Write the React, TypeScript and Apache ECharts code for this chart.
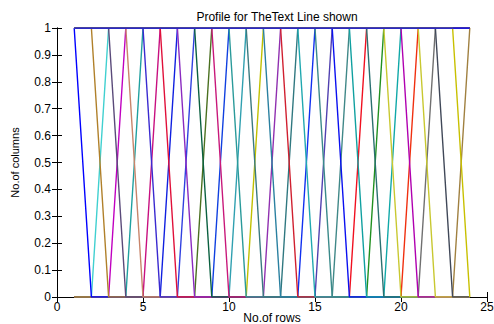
import React, { useEffect, useRef } from "react";
import * as echarts from "echarts";

// Row indices (x axis)
const rows = [1, 2, 3, 4, 5, 6, 7, 8, 9, 10, 11, 12, 13, 14, 15, 16, 17, 18, 19, 20, 21, 22, 23, 24];

// Columns that fall from 1 to 0: last row holding 1
const fallAfterRow = [1, 2, 3, 4, 5, 6, 7, 8, 9, 10, 11, 12, 13, 14, 15, 16, 17, 18, 19, 20, 21, 22, 23];
const fallColors = [
  "#0000FF", "#B0802A", "#5A4A7A", "#C8846A", "#3A2AD0", "#E0103A", "#8A2AC0", "#0A6040",
  "#C8187A", "#2A9A9A", "#3A7A80", "#2A80A0", "#D02030", "#20A8B0", "#3A8A8A", "#0A10F0",
  "#10A0A0", "#2A7070", "#C8C830", "#B000B0", "#C8C830", "#404858", "#C8C000",
];

// Columns that rise from 0 to 1: last row holding 0
const riseAfterRow = [2, 3, 4, 5, 6, 7, 8, 9, 10, 11, 12, 13, 14, 15, 16, 17, 18, 19, 20, 21, 23];
const riseColors = [
  "#40D0D0", "#C000C0", "#20A0A0", "#C81080", "#1020E0", "#3040E0", "#4A7020", "#1040E0",
  "#30A0B0", "#C0C000", "#9030B0", "#307880", "#1030F0", "#5040B0", "#408888", "#F01020",
  "#209020", "#10A8A8", "#F03010", "#707070", "#A08040",
];

// Column of all ones (top line)
const allOnes = [1, 1, 1, 1, 1, 1, 1, 1, 1, 1, 1, 1, 1, 1, 1, 1, 1, 1, 1, 1, 1, 1, 1, 1];

const xTicks = { min: 0, max: 25, interval: 5 };
const yTicks = { min: 0, max: 1, interval: 0.1 };

const FONT = "Liberation Sans, Arial, sans-serif";
const LW = 1.4;

export default function App() {
  const ref = useRef<HTMLDivElement>(null);
  useEffect(() => {
    if (!ref.current) return;
    const chart = echarts.init(ref.current, undefined, { renderer: "svg" });
    const lineBase = {
      type: "line" as const,
      showSymbol: false,
      symbol: "none",
      silent: true,
    };
    const series: any[] = [];
    riseAfterRow.forEach((k, i) => {
      series.push({
        ...lineBase,
        data: rows.map((r) => [r, r <= k ? 0 : 1]),
        lineStyle: { width: LW, color: riseColors[i] },
        itemStyle: { color: riseColors[i] },
      });
    });
    fallAfterRow.forEach((k, i) => {
      series.push({
        ...lineBase,
        data: rows.map((r) => [r, r <= k ? 1 : 0]),
        lineStyle: { width: LW, color: fallColors[i] },
        itemStyle: { color: fallColors[i] },
      });
    });
    series.push({
      ...lineBase,
      data: rows.map((r, i) => [r, allOnes[i]]),
      lineStyle: { width: LW, color: "#0000FF" },
      itemStyle: { color: "#0000FF" },
    });

    const axisLine = { show: true, lineStyle: { color: "#000", width: 1 } };
    chart.setOption({
      animation: false,
      backgroundColor: "#fff",
      title: {
        text: "Profile for TheText Line shown",
        left: 272,
        textAlign: "center",
        top: 6,
        textStyle: { fontFamily: FONT, fontSize: 12, fontWeight: "normal", color: "#000" },
      },
      grid: { left: 57, right: 7, top: 28, bottom: 27, outerBoundsMode: "none", containLabel: false },
      xAxis: [
        {
          type: "value",
          ...xTicks,
          position: "bottom",
          name: "No.of rows",
          nameLocation: "middle",
          nameGap: 21,
          nameMoveOverlap: false,
          nameTextStyle: { fontFamily: FONT, fontSize: 12, color: "#000", verticalAlign: "middle", padding: 0 },
          axisLine,
          axisTick: { show: true, inside: true, length: 5, lineStyle: { color: "#000" } },
          axisLabel: { fontFamily: FONT, fontSize: 12, color: "#000", margin: 4 },
          splitLine: { show: false },
        },
        {
          type: "value",
          ...xTicks,
          position: "top",
          axisLine,
          axisTick: { show: true, inside: true, length: 5, lineStyle: { color: "#000" } },
          axisLabel: { show: false },
          splitLine: { show: false },
        },
      ],
      yAxis: [
        {
          type: "value",
          ...yTicks,
          position: "left",
          name: "No.of columns",
          nameLocation: "middle",
          nameGap: 42,
          nameMoveOverlap: false,
          nameTextStyle: { fontFamily: FONT, fontSize: 11, color: "#000", verticalAlign: "middle", padding: 0 },
          axisLine,
          axisTick: { show: true, inside: true, length: 5, lineStyle: { color: "#000" } },
          axisLabel: { fontFamily: FONT, fontSize: 12, color: "#000", margin: 6 },
          splitLine: { show: false },
        },
        {
          type: "value",
          ...yTicks,
          position: "right",
          axisLine,
          axisTick: { show: true, inside: true, length: 5, lineStyle: { color: "#000" } },
          axisLabel: { show: false },
          splitLine: { show: false },
        },
      ],
      series,
    });
    return () => chart.dispose();
  }, []);
  return (
    <div
      ref={ref}
      style={{ position: "fixed", left: 0, top: 0, width: 494, height: 324, background: "#fff" }}
    />
  );
}
